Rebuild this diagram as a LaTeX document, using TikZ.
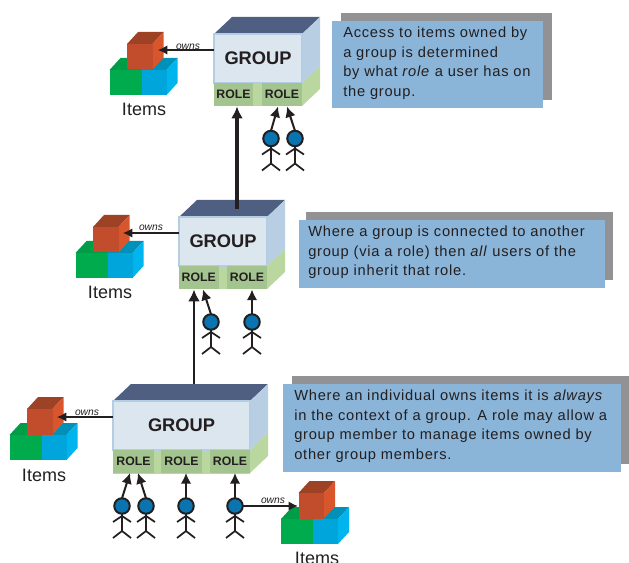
\documentclass[tikz,border=0pt]{standalone}
\usepackage{fontspec}
\setmainfont{Liberation Sans}
\newfontfamily\notefont[LetterSpace=5.2]{Liberation Sans}
\usetikzlibrary{arrows.meta,calc}
\definecolor{topface}{HTML}{4F5F82}
\definecolor{frontface}{HTML}{DCE6EE}
\definecolor{frontedge}{HTML}{B5CDE3}
\definecolor{sideface}{HTML}{B8CFE3}
\definecolor{rolefill}{HTML}{A3C48F}
\definecolor{roleside}{HTML}{BAD7A0}
\definecolor{redf}{HTML}{C14D2C}
\definecolor{redt}{HTML}{9E4226}
\definecolor{reds}{HTML}{D9552B}
\definecolor{greenf}{HTML}{00AB4E}
\definecolor{bluef}{HTML}{00A6DB}
\definecolor{bluet}{HTML}{0090B8}
\definecolor{blues}{HTML}{00B4EE}
\definecolor{notefill}{HTML}{8AB4D8}
\definecolor{noteshadow}{HTML}{929295}
\definecolor{headfill}{HTML}{0A74B0}
\definecolor{inkc}{HTML}{231F20}
\def\upx{0.75pt}
\tikzset{
  x=0.75pt,y=-0.75pt,
  line join=miter,
  frontbox/.style={draw=frontedge,line width=1.1pt,fill=frontface,anchor=north west,inner sep=0,outer sep=0,
     font=\fontsize{13.7}{15}\bfseries,text=inkc},
  rolebox/.style={fill=rolefill,anchor=north west,inner sep=0,outer sep=0,
     font=\fontsize{9.2}{10}\bfseries,text=inkc},
  ownslabel/.style={font=\fontsize{7.7}{9}\itshape,text=inkc,inner sep=0},
  itemslabel/.style={font=\fontsize{13.5}{15}\selectfont,text=inkc,inner sep=0},
  notetext/.style={anchor=north west,align=left,inner sep=0,text=inkc,font=\notefont\fontsize{11}{14.6}\selectfont},
  head/.style={circle,draw=inkc,line width=1.5pt,fill=headfill,minimum size=15.5*\upx,inner sep=0,outer sep=0},
  stick/.style={draw=inkc,line width=1.3pt},
  thinarrow/.style={draw=inkc,line width=1.5pt,-{Latex[length=8pt,width=8pt]}},
  ownsarrow/.style={draw=inkc,line width=0.9pt,-{Latex[length=7pt,width=7pt]}},
  liftarrow/.style={draw=inkc,-{Latex[length=9pt,width=9pt]}},
}
% cube: #1 left, #2 top of front, #3 width, #4 height, colours front/top/side
\newcommand\solidcube[7]{%
  \fill[#6] (#1,#2) -- ++(11,-12) -- ++(#3,0) -- ++(-11,12) -- cycle;
  \fill[#7] ({#1+#3},#2) -- ++(11,-12) -- ++(0,#4) -- ++(-11,12) -- cycle;
  \fill[#5] (#1,#2) rectangle ++(#3,#4);
}
% item stack: #1 red left, #2 red top
\newcommand\itemstack[2]{%
  \solidcube{#1-17.5}{#2+26}{32}{25}{greenf}{greenf!92!black}{greenf}
  \solidcube{#1+14.5}{#2+26}{25}{25}{bluef}{bluet}{blues}
  \solidcube{#1}{#2}{25.5}{25.5}{redf}{redt}{reds}
}
% group block: #1 name, #2 left, #3 top, #4 front width
\newcommand\groupblock[4]{%
  \fill[topface] (#2,#3) -- ++(18,-17) -- ++(#4,0) -- ++(-18,17) -- cycle;
  \fill[sideface] ({#2+#4},#3) -- ++(18,-17) -- ++(0,49) -- ++(-18,17) -- cycle;
  \fill[roleside] ({#2+#4},{#3+49}) -- ++(18,-17) -- ++(0,23) -- ++(-18,17) -- cycle;
  \fill[roleside] (#2,{#3+49}) rectangle ++(#4,23.5);
  \node[frontbox,minimum width=#4*\upx,minimum height=49*\upx] (#1) at (#2,#3) {GROUP};
}
% stick figure: #1 name, #2 x, #3 y
\newcommand\stickman[3]{%
  \node[head] (#1) at (#2,#3) {};
  \draw[stick] (#1.south) -- ++(0,17.5);
  \draw[stick] ($(#1.center)+(-9,16)$) -- ($(#1.center)+(0,10)$) -- ($(#1.center)+(9,16)$);
  \draw[stick] ($(#1.center)+(-9,32)$) -- ($(#1.center)+(0,25)$) -- ($(#1.center)+(9,32)$);
}
\newcommand\rolenode[5]{% name x y width
  \node[rolebox,minimum width=#4*\upx,minimum height=23.5*\upx] (#1) at (#2,#3) {#5};
}
\begin{document}
\begin{tikzpicture}
\useasboundingbox (0,0) rectangle (629,563);
% notes
\fill[noteshadow] (341,13) rectangle (552,100);
\fill[notefill] (332,21) rectangle (543,108);
\node[notetext] (noteA) at (343,27) {Access to items owned by\\a group is determined\\by what \textit{role} a user has on\\the group.};
\fill[noteshadow] (306,212) rectangle (613,280);
\fill[notefill] (299,220) rectangle (605,288);
\node[notetext] (noteB) at (308,226) {Where a group is connected to another\\group (via a role) then \textit{all} users of the\\group inherit that role.};
\fill[noteshadow] (292,376) rectangle (629,464);
\fill[notefill] (283,384) rectangle (621,472);
\node[notetext] (noteC) at (294,390) {Where an individual owns items it is \textit{always}\\in the context of a group. A role may allow a\\group member to manage items owned by\\other group members.};
% items
\itemstack{127}{44}
\coordinate (itemsAport) at (158,50);
\node[itemslabel] (itemsA) at (144,109) {Items};
\itemstack{93}{227}
\coordinate (itemsBport) at (123,233);
\node[itemslabel] (itemsB) at (110,292) {Items};
\itemstack{27}{409}
\coordinate (itemsCport) at (57,417);
\node[itemslabel] (itemsC) at (44,475) {Items};
\itemstack{298.5}{493}
\coordinate (itemsDport) at (298,506);
\node[itemslabel] (itemsD) at (317,558) {Items};
% groups
\groupblock{groupA}{214}{34}{88}
\rolenode{roleA1}{214}{83}{39}{ROLE}
\rolenode{roleA2}{262}{83}{40}{ROLE}
\groupblock{groupB}{179}{217}{88}
\rolenode{roleB1}{179}{266}{39.5}{ROLE}
\rolenode{roleB2}{227}{266}{40}{ROLE}
\groupblock{groupC}{113}{401}{137}
\rolenode{roleC1}{113}{449.5}{41}{ROLE}
\rolenode{roleC2}{161}{449.5}{41}{ROLE}
\rolenode{roleC3}{210}{449.5}{40}{ROLE}
% people
\stickman{pA1}{271}{138.5}
\stickman{pA2}{295}{138.5}
\stickman{pB1}{211}{322}
\stickman{pB2}{252}{322}
\stickman{pC1}{122}{506}
\stickman{pC2}{146}{506}
\stickman{pC3}{186}{506}
\stickman{pC4}{235}{506}
% people to roles
\coordinate (gA1) at (278,106.5);
\coordinate (gA2) at (287,106.5);
\draw[thinarrow] (pA1.north) -- (gA1);
\draw[thinarrow] (pA2.north) -- (gA2);
\coordinate (gB1) at (203,289.5);
\draw[thinarrow] (pB1.north) -- (gB1);
\draw[thinarrow] (pB2.north) -- (pB2.north |- roleB2.south);
\coordinate (gC1) at (130,473);
\coordinate (gC2) at (138,473);
\draw[thinarrow] (pC1.north) -- (gC1);
\draw[thinarrow] (pC2.north) -- (gC2);
\draw[thinarrow] (pC3.north) -- (pC3.north |- roleC2.south);
\draw[thinarrow] (pC4.north) -- (pC4.north |- roleC3.south);
% group to group
\coordinate (liftAfoot) at (237,209);
\coordinate (liftBfoot) at (194,384);
\draw[liftarrow,line width=3pt] (liftAfoot) -- (liftAfoot |- roleA1.south);
\draw[liftarrow,line width=1.9pt] (liftBfoot) -- (liftBfoot |- roleB1.south);
% owns
\draw[ownsarrow] (groupA.west |- itemsAport) -- (itemsAport);
\node[ownslabel] (ownsA) at (188,46.5) {owns};
\draw[ownsarrow] (groupB.west |- itemsBport) -- (itemsBport);
\node[ownslabel] (ownsB) at (151,227.5) {owns};
\draw[ownsarrow] (groupC.west |- itemsCport) -- (itemsCport);
\node[ownslabel] (ownsC) at (87,413) {owns};
\draw[ownsarrow,line width=1.8pt] (pC4.east) -- (itemsDport);
\node[ownslabel] (ownsD) at (273,501) {owns};
\end{tikzpicture}
\end{document}
